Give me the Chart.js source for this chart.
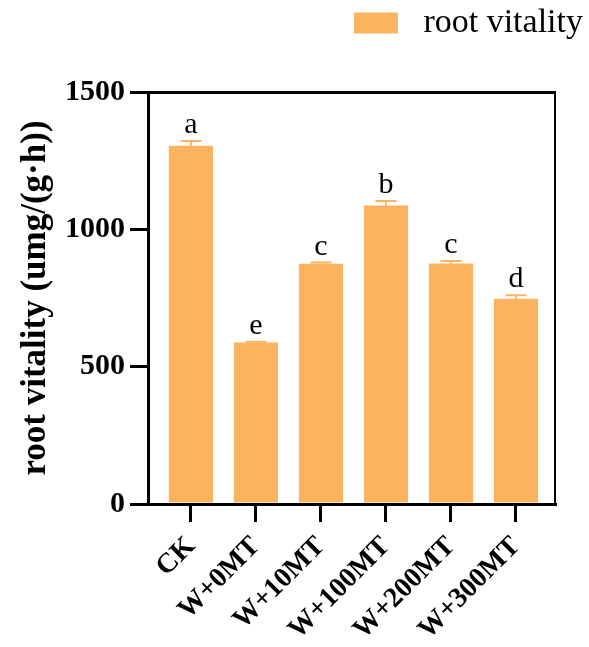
<!DOCTYPE html>
<html>
<head>
<meta charset="utf-8">
<script src="https://cdn.jsdelivr.net/npm/chart.js@4.4.0/dist/chart.umd.min.js"></script>
<style>
  html, body { margin: 0; padding: 0; background: #fff; }
  #wrap { width: 589px; height: 647px; }
</style>
</head>
<body>
<div id="wrap"><canvas id="c"></canvas></div>
<script>
// Treatments and measured root vitality (mean ± SE)
const categories = ['CK', 'W+0MT', 'W+10MT', 'W+100MT', 'W+200MT', 'W+300MT'];
const means = [1304, 588, 875, 1087, 876, 747];
const errors = [18, 3, 4, 16, 9, 13];
const letters = ['a', 'e', 'c', 'b', 'c', 'd'];
const yTicks = [0, 500, 1000, 1500];

const barColor = '#FCB35F';
const serif = "'Liberation Serif', 'Times New Roman', serif";

// Error bars and significance letters drawn on top of the bars
const annotate = {
  id: 'annotate',
  afterDatasetsDraw(chart) {
    const { ctx, scales: { x, y } } = chart;
    ctx.save();
    means.forEach((m, i) => {
      const cx = x.getPixelForValue(i);
      const yTop = y.getPixelForValue(m + errors[i]);
      const yMid = y.getPixelForValue(m);
      ctx.strokeStyle = barColor;
      ctx.lineWidth = 2;
      ctx.beginPath();
      ctx.moveTo(cx, yMid);
      ctx.lineTo(cx, yTop);
      ctx.moveTo(cx - 10.5, yTop);
      ctx.lineTo(cx + 10.5, yTop);
      ctx.stroke();
      ctx.fillStyle = '#000';
      ctx.font = '30px ' + serif;
      ctx.textAlign = 'center';
      ctx.textBaseline = 'alphabetic';
      ctx.fillText(letters[i], cx, yTop - 8);
    });
    ctx.restore();
  }
};

new Chart(document.getElementById('c'), {
  type: 'bar',
  data: {
    datasets: [{
      label: ' root vitality',
      data: means.map((m, i) => ({ x: i, y: m })),
      backgroundColor: barColor,
      borderWidth: 0,
      categoryPercentage: 1,
      barPercentage: 0.68
    }]
  },
  options: {
    responsive: true,
    maintainAspectRatio: false,
    animation: false,
    layout: { padding: { top: 0, left: 15, right: 0, bottom: 0 } },
    plugins: {
      tooltip: { enabled: false },
      legend: {
        display: true,
        position: 'top',
        align: 'end',
        labels: {
          color: '#000',
          font: { family: serif, size: 34 },
          boxWidth: 44,
          boxHeight: 21,
          padding: 6
        }
      }
    },
    scales: {
      x: {
        type: 'linear',
        min: -0.66,
        max: 5.6,
        offset: false,
        afterBuildTicks: s => { s.ticks = categories.map((c, i) => ({ value: i })); },
        afterFit: s => { s.height = 143; },
        grid: { offset: false, drawOnChartArea: false, drawTicks: true, tickLength: 18, lineWidth: 3, color: '#000' },
        border: { display: true, color: '#000', width: 3 },
        ticks: {
          color: '#000',
          font: { family: serif, size: 28, weight: 'bold' },
          maxRotation: 45,
          minRotation: 45,
          padding: 8,
          autoSkip: false,
          callback: v => categories[v]
        }
      },
      x2: {
        type: 'linear',
        position: 'top',
        display: true,
        afterFit: s => { s.height = 42; },
        grid: { display: false },
        ticks: { display: false },
        border: { display: true, color: '#000', width: 3 }
      },
      y: {
        min: 0,
        max: 1500,
        afterBuildTicks: s => { s.ticks = yTicks.map(v => ({ value: v })); },
        afterFit: s => { s.width = 133; },
        grid: { drawOnChartArea: false, drawTicks: true, tickLength: 18, lineWidth: 3, color: '#000' },
        border: { display: true, color: '#000', width: 3 },
        ticks: {
          color: '#000',
          font: { family: serif, size: 30, weight: 'bold' },
          padding: 5,
          callback: v => String(v)
        },
        title: {
          display: true,
          text: 'root vitality (umg/(g·h))',
          color: '#000',
          font: { family: serif, size: 35, weight: 'bold' },
          padding: { top: 0, bottom: 0 }
        }
      },
      y2: {
        type: 'linear',
        position: 'right',
        display: true,
        afterFit: s => { s.width = 34; },
        grid: { display: false },
        ticks: { display: false },
        border: { display: true, color: '#000', width: 2 }
      }
    }
  },
  plugins: [annotate]
});
</script>
</body>
</html>
